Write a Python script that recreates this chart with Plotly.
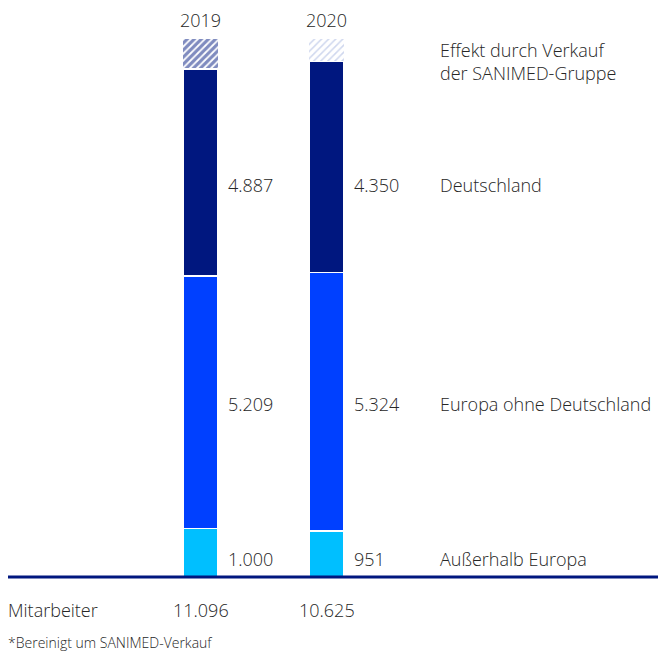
import plotly.graph_objects as go

years = ["2019", "2020"]
ausserhalb = [1000, 951]
europa = [5209, 5324]
deutschland_labels = ["4.887", "4.350"]
deutschland_bar = [4267, 4350]   # portion drawn solid (2019 shown adjusted)
effekt = [620, 470]              # hatched SANIMED effect
totals = ["11.096", "10.625"]
europa_labels = ["5.209", "5.324"]
ausserhalb_labels = ["1.000", "951"]

NAVY = "#00177f"
BLUE = "#0040ff"
LIGHT = "#00bfff"
TXT = "#262626"
FONT = "Open Sans"

W, H = 662, 653
BASE_PX = 577
SCALE = 0.0485  # px per unit
STEP = 126      # px between bar centres
X0 = 200.5      # px centre of first bar

fig = go.Figure()
line = dict(color="white", width=1.5)
fig.add_bar(x=years, y=ausserhalb, marker=dict(color=LIGHT, line=line), width=0.278)
fig.add_bar(x=years, y=europa, marker=dict(color=BLUE, line=line), width=0.278)
fig.add_bar(x=years, y=deutschland_bar, marker=dict(color=NAVY, line=line), width=0.278)
fig.add_bar(x=years, y=effekt, width=0.278,
            marker=dict(color="white", line=dict(color="white", width=1),
                        pattern=dict(shape="/", fgcolor=[NAVY, "#9fb0dd"], bgcolor="white",
                                     size=5, solidity=[0.65, 0.3], fillmode="overlay")))

y_lo = -(H - BASE_PX) / SCALE
y_hi = BASE_PX / SCALE
fig.update_layout(
    width=W, height=H, margin=dict(l=0, r=0, t=0, b=0),
    barmode="stack", showlegend=False,
    plot_bgcolor="white", paper_bgcolor="white",
    xaxis=dict(type="category", range=[-X0 / STEP, (W - X0) / STEP], visible=False),
    yaxis=dict(range=[y_lo, y_hi], visible=False),
    font=dict(family=FONT, color=TXT, size=18, weight=300),
)

def py(p):
    return 1 - p / H

ann = []
for i, yr in enumerate(years):
    cx = (X0 + i * STEP) / W
    ann.append(dict(x=cx, xref="paper", y=py(20), yref="paper", text=yr, showarrow=False,
                    xanchor="center", yanchor="middle"))
    for lab, p in ((deutschland_labels[i], 185), (europa_labels[i], 404), (ausserhalb_labels[i], 559)):
        ann.append(dict(x=cx, xref="paper", y=py(p), yref="paper", text=lab, showarrow=False,
                        xanchor="left", yanchor="middle", xshift=25))
    ann.append(dict(x=cx, xref="paper", y=py(610), yref="paper", text=totals[i], showarrow=False,
                    xanchor="center", yanchor="middle"))

cats = [("Effekt durch Verkauf<br>der SANIMED-Gruppe", 61), ("Deutschland", 185),
        ("Europa ohne Deutschland", 404), ("Außerhalb Europa", 559)]
for t, p in cats:
    ann.append(dict(x=438 / W, xref="paper", y=py(p), yref="paper", text=t, showarrow=False,
                    xanchor="left", yanchor="middle", align="left"))
ann.append(dict(x=6 / W, xref="paper", y=py(610), yref="paper", text="Mitarbeiter",
                showarrow=False, xanchor="left", yanchor="middle"))
ann.append(dict(x=6 / W, xref="paper", y=py(642), yref="paper", text="*Bereinigt um SANIMED-Verkauf",
                showarrow=False, xanchor="left", yanchor="middle", font=dict(size=14)))
fig.update_layout(annotations=ann)

fig.add_shape(type="line", xref="paper", yref="y", x0=8 / W, x1=658 / W, y0=0, y1=0,
              line=dict(color=NAVY, width=3))

fig.write_html("out.html")
